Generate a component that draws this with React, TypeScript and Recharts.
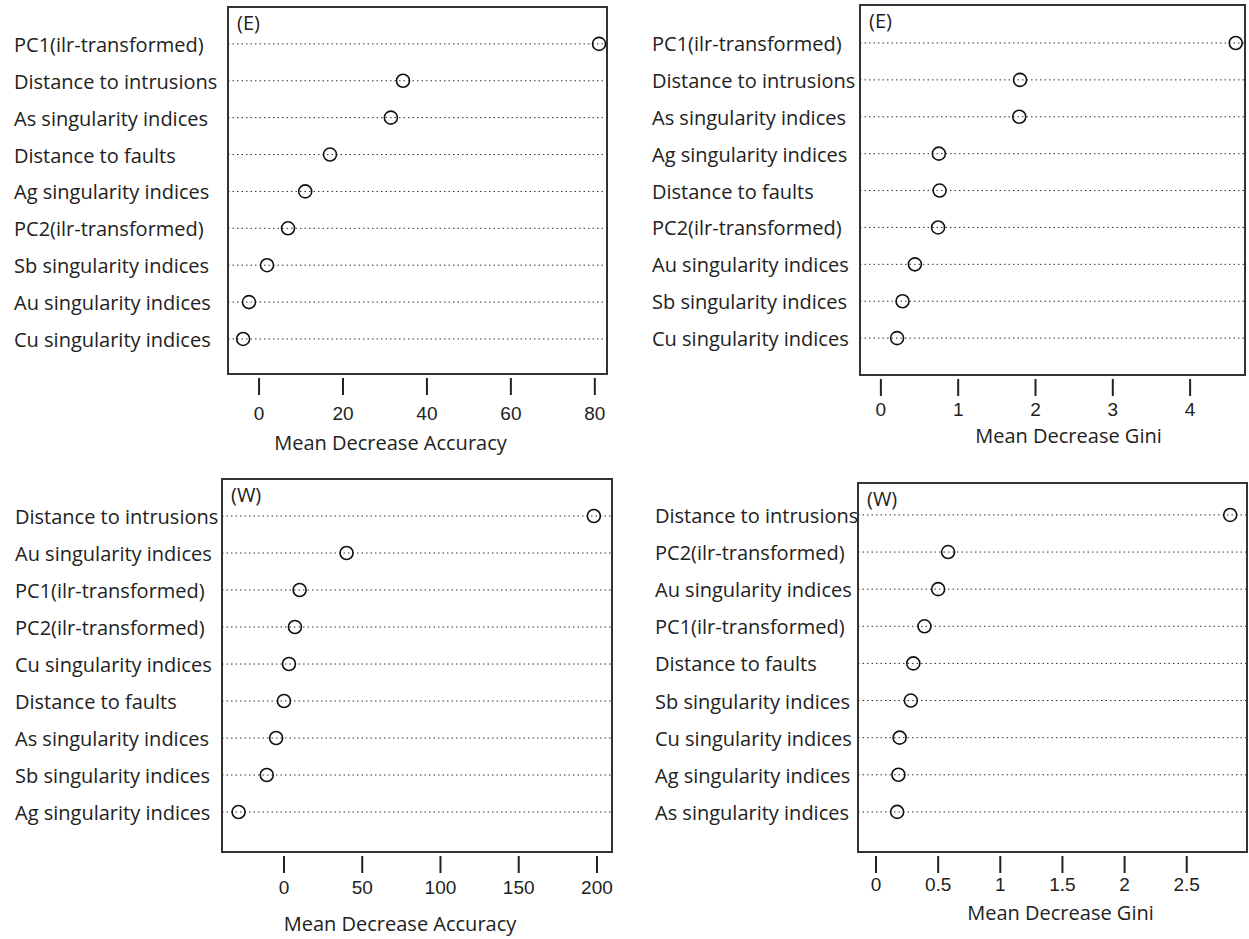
import { ScatterChart, Scatter, XAxis, YAxis, CartesianGrid, ReferenceArea, Label } from "recharts"

// variable names, top to bottom, and their importance values
const eastAccuracyNames = [
  "PC1(ilr-transformed)",
  "Distance to intrusions",
  "As singularity indices",
  "Distance to faults",
  "Ag singularity indices",
  "PC2(ilr-transformed)",
  "Sb singularity indices",
  "Au singularity indices",
  "Cu singularity indices",
]
const eastAccuracy = [81, 34.3, 31.4, 16.9, 11, 6.9, 1.9, -2.4, -3.8]
const eastAccuracyTicks = [0, 20, 40, 60, 80]

const eastGiniNames = [
  "PC1(ilr-transformed)",
  "Distance to intrusions",
  "As singularity indices",
  "Ag singularity indices",
  "Distance to faults",
  "PC2(ilr-transformed)",
  "Au singularity indices",
  "Sb singularity indices",
  "Cu singularity indices",
]
const eastGini = [4.59, 1.8, 1.79, 0.75, 0.76, 0.74, 0.44, 0.28, 0.21]
const eastGiniTicks = [0, 1, 2, 3, 4]

const westAccuracyNames = [
  "Distance to intrusions",
  "Au singularity indices",
  "PC1(ilr-transformed)",
  "PC2(ilr-transformed)",
  "Cu singularity indices",
  "Distance to faults",
  "As singularity indices",
  "Sb singularity indices",
  "Ag singularity indices",
]
const westAccuracy = [198, 40, 10, 7, 3.2, 0, -5, -11, -29]
const westAccuracyTicks = [0, 50, 100, 150, 200]

const westGiniNames = [
  "Distance to intrusions",
  "PC2(ilr-transformed)",
  "Au singularity indices",
  "PC1(ilr-transformed)",
  "Distance to faults",
  "Sb singularity indices",
  "Cu singularity indices",
  "Ag singularity indices",
  "As singularity indices",
]
const westGini = [2.85, 0.58, 0.5, 0.39, 0.3, 0.28, 0.19, 0.18, 0.17]
const westGiniTicks = [0, 0.5, 1, 1.5, 2, 2.5]

const rankTicks = [1, 2, 3, 4, 5, 6, 7, 8, 9]

const toRows = (names: string[], values: number[]) =>
  names.map((name, i) => ({ name, value: values[i], rank: names.length - i }))

const panels = [
  {
    tag: "(E)", title: "Mean Decrease Accuracy", names: eastAccuracyNames, values: eastAccuracy, ticks: eastAccuracyTicks,
    left: 0, top: 0, width: 620, height: 460, yWidth: 228, margin: { top: 7, right: 13, left: 0, bottom: 0 }, xHeight: 86,
    xDomain: [-7.4, 82.9], yDomain: [0.05, 10], labelX: 14, tickDy: 46, titleDx: -27, titleOffset: 10,
  },
  {
    tag: "(E)", title: "Mean Decrease Gini", names: eastGiniNames, values: eastGini, ticks: eastGiniTicks,
    left: 620, top: 0, width: 629, height: 460, yWidth: 240, margin: { top: 5, right: 4, left: 0, bottom: 0 }, xHeight: 85,
    xDomain: [-0.27, 4.71], yDomain: [0, 10.03], labelX: 32, tickDy: 41, titleDx: 16, titleOffset: 17,
  },
  {
    tag: "(W)", title: "Mean Decrease Accuracy", names: westAccuracyNames, values: westAccuracy, ticks: westAccuracyTicks,
    left: 0, top: 470, width: 620, height: 469, yWidth: 222, margin: { top: 9, right: 8, left: 0, bottom: 0 }, xHeight: 87,
    xDomain: [-39.6, 209.6], yDomain: [-0.08, 10], labelX: 15, tickDy: 42, titleDx: -17, titleOffset: 8,
  },
  {
    tag: "(W)", title: "Mean Decrease Gini", names: westGiniNames, values: westGini, ticks: westGiniTicks,
    left: 620, top: 470, width: 629, height: 469, yWidth: 238, margin: { top: 13, right: 2, left: 0, bottom: 0 }, xHeight: 87,
    xDomain: [-0.145, 2.985], yDomain: [-0.08, 9.86], labelX: 35, tickDy: 39, titleDx: 8, titleOffset: 19,
  },
]

const Dot = (p: any) => <circle cx={p.cx} cy={p.cy} r={6.5} fill="none" stroke="#111" strokeWidth={1.6} />

function Panel({ cfg }: { cfg: (typeof panels)[number] }) {
  const data = toRows(cfg.names, cfg.values)
  return (
    <div style={{ position: "absolute", left: cfg.left, top: cfg.top }}>
      <ScatterChart width={cfg.width} height={cfg.height} margin={cfg.margin}>
        <CartesianGrid vertical={false} stroke="#333" strokeDasharray="1.5 3" />
        <XAxis
          type="number"
          dataKey="value"
          domain={cfg.xDomain}
          ticks={cfg.ticks}
          allowDataOverflow
          height={cfg.xHeight}
          axisLine={false}
          tickLine={false}
          tickSize={0}
          tickMargin={0}
          interval={0}
          tick={(t: any) => (
            <g>
              <line x1={t.x} x2={t.x} y1={t.y + 4} y2={t.y + 21} stroke="#222" strokeWidth={2} />
              <text x={t.x} y={t.y + cfg.tickDy} textAnchor="middle" fontFamily="Liberation Sans, Arial" fontSize={19} fill="#222">
                {t.payload.value}
              </text>
            </g>
          )}
        >
          <Label
            value={cfg.title}
            position="insideBottom"
            offset={cfg.titleOffset}
            dx={cfg.titleDx}
            style={{ fontFamily: "Open Sans", fontSize: 20, fill: "#222" }}
          />
        </XAxis>
        <YAxis
          type="number"
          dataKey="rank"
          domain={cfg.yDomain}
          ticks={rankTicks}
          allowDataOverflow
          width={cfg.yWidth}
          axisLine={false}
          tickLine={false}
          tickSize={0}
          tickMargin={0}
          interval={0}
          tick={(t: any) => (
            <text x={cfg.labelX} y={t.y + 8} textAnchor="start" fontFamily="Open Sans" fontSize={20} fill="#222">
              {cfg.names[cfg.names.length - t.payload.value]}
            </text>
          )}
        />
        <ReferenceArea
          x1={cfg.xDomain[0]}
          x2={cfg.xDomain[1]}
          y1={cfg.yDomain[0]}
          y2={cfg.yDomain[1]}
          fill="none"
          stroke="#333"
          strokeWidth={2}
          ifOverflow="visible"
        >
          <Label
            value={cfg.tag}
            position="insideTopLeft"
            offset={9}
            style={{ fontFamily: "Open Sans", fontSize: 20, fill: "#222" }}
          />
        </ReferenceArea>
        <Scatter data={data} shape={Dot} isAnimationActive={false} />
      </ScatterChart>
    </div>
  )
}

export default function App() {
  return (
    <div style={{ position: "absolute", left: 0, top: 0, width: 1249, height: 939, background: "#fff" }}>
      {panels.map((cfg, i) => (
        <Panel key={i} cfg={cfg} />
      ))}
    </div>
  )
}
